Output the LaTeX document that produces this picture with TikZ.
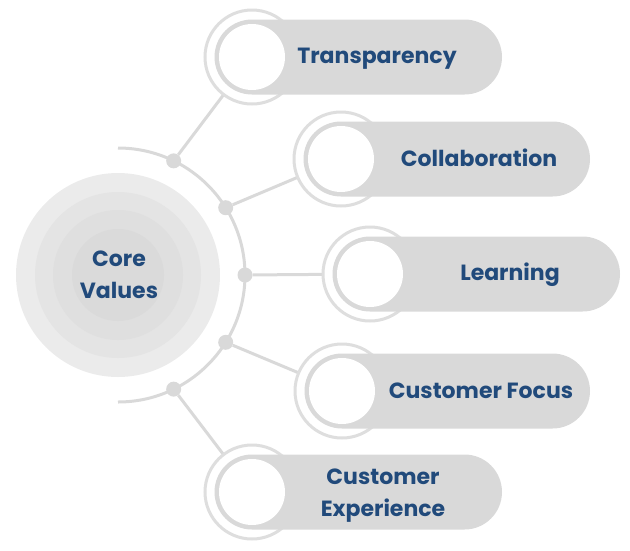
\documentclass[tikz,border=0pt]{standalone}
\usepackage{fontspec}
\setmainfont{Poppins}
\usetikzlibrary{calc}
\definecolor{linegrey}{HTML}{D9D9D9}
\definecolor{ringgrey}{HTML}{DEDEDE}
\definecolor{pillgrey}{HTML}{D9D9D9}
\definecolor{valblue}{HTML}{214A7B}
\definecolor{coreA}{HTML}{EBEBEB}
\definecolor{coreB}{HTML}{E4E4E4}
\definecolor{coreC}{HTML}{DFDFDF}
\definecolor{coreD}{HTML}{DADADA}

\begin{document}
\begin{tikzpicture}[x=1pt,y=-1pt,
  link/.style={draw=linegrey, line width=3pt},
  knot/.style={circle, fill=linegrey, minimum size=15pt, inner sep=0pt},
  ring/.style={draw=ringgrey, line width=3pt, fill=white},
  pill/.style={fill=pillgrey, rounded corners=37.5pt},
  hole/.style={fill=white},
  label/.style={text=valblue, font=\bfseries\fontsize{22}{32}\selectfont, align=center}]
	\useasboundingbox (0,0) rectangle (630,550);

	% core circles
	\coordinate (core) at (118,275);
	\fill[coreA] (core) circle (102);
	\fill[coreB] (core) circle (83);
	\fill[coreC] (core) circle (65);
	\fill[coreD] (core) circle (46);
	\node[label] (title) at (119,275) {Core\\Values};

	% arc with knots
	\draw[link] (118,148) arc[start angle=-90, end angle=90, radius=127];
	\node[knot] (d1) at ($(core)+(-64:127)$) {};
	\node[knot] (d2) at ($(core)+(-32:127)$) {};
	\node[knot] (d3) at ($(core)+(0:127)$) {};
	\node[knot] (d4) at ($(core)+(32:127)$) {};
	\node[knot] (d5) at ($(core)+(64:127)$) {};

	\coordinate (c1) at (252,57);
	\coordinate (c2) at (341,159);
	\coordinate (c3) at (370,274);
	\coordinate (c4) at (342,391);
	\coordinate (c5) at (252,492);

	\draw[link] (d1) -- (c1);
	\draw[link] (d2) -- (c2);
	\draw[link] (d3) -- (c3);
	\draw[link] (d4) -- (c4);
	\draw[link] (d5) -- (c5);

	% Transparency
	\draw[ring] (c1) circle (47);
	\fill[pill] ($(c1)+(-37.5,-37.5)$) rectangle (502,94.5);
	\fill[hole] (c1) circle (33);
	\node[label] (t1) at (377,59) {Transparency};

	% Collaboration
	\draw[ring] (c2) circle (47);
	\fill[pill] ($(c2)+(-37.5,-37.5)$) rectangle (590,196.5);
	\fill[hole] (c2) circle (33);
	\node[label] (t2) at (479,158) {Collaboration};

	% Learning
	\draw[ring] (c3) circle (47);
	\fill[pill] ($(c3)+(-37.5,-37.5)$) rectangle (620,311.5);
	\fill[hole] (c3) circle (33);
	\node[label] (t3) at (510,275) {Learning};

	% Customer Focus
	\draw[ring] (c4) circle (47);
	\fill[pill] ($(c4)+(-37.5,-37.5)$) rectangle (590,428.5);
	\fill[hole] (c4) circle (33);
	\node[label] (t4) at (481,391) {Customer Focus};

	% Customer Experience
	\draw[ring] (c5) circle (47);
	\fill[pill] ($(c5)+(-37.5,-37.5)$) rectangle (502,529.5);
	\fill[hole] (c5) circle (33);
	\node[label] (t5) at (383,496) {Customer\\Experience};
\end{tikzpicture}
\end{document}
